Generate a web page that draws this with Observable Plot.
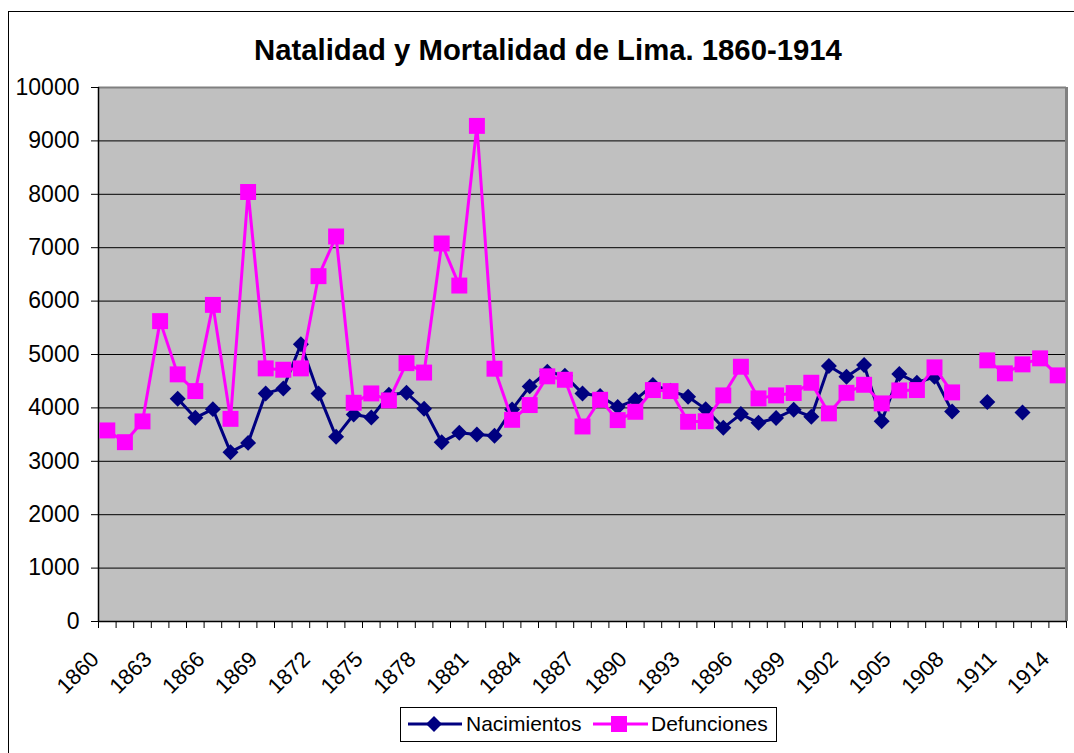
<!DOCTYPE html>
<html><head><meta charset="utf-8">
<script src="https://cdn.jsdelivr.net/npm/d3@7"></script>
<script src="https://cdn.jsdelivr.net/npm/@observablehq/plot@0.6"></script>
<style>
html,body{margin:0;padding:0;background:#fff;}
#wrap{position:relative;width:1074px;height:753px;overflow:hidden;font-family:Arial,"Liberation Sans",sans-serif;}
#frame{position:absolute;left:8px;top:11px;width:1200px;height:900px;border-left:1px solid #000;border-top:1px solid #000;}
#chart{position:absolute;left:0;top:0;}
#title{position:absolute;left:0;top:33px;width:1096px;text-align:center;font-weight:bold;font-size:29.3px;line-height:34px;color:#000;}
#legend{position:absolute;left:400px;top:707px;width:377px;height:35px;border:1px solid #000;box-sizing:border-box;background:#fff;}
#legend span{position:absolute;top:4px;font-size:21px;line-height:24px;color:#000;}
#legend svg{position:absolute;left:0;top:0;}
</style>
</head><body>
<div id="wrap">
  <div id="frame"></div>
  <div id="chart"></div>
  <div id="title">Natalidad y Mortalidad de Lima. 1860-1914</div>
  <div id="legend">
    <svg width="377" height="35">
      <line x1="7" x2="61" y1="16" y2="16" stroke="#000080" stroke-width="3"/>
      <path d="M33,8L41,16L33,24L25,16Z" fill="#000080"/>
      <line x1="192" x2="247" y1="16" y2="16" stroke="#FF00FF" stroke-width="3"/>
      <rect x="210" y="8" width="16" height="16" fill="#FF00FF"/>
    </svg>
    <span style="left:65px">Nacimientos</span>
    <span style="left:250px">Defunciones</span>
  </div>
</div>
<script>
const years = [1860,1861,1862,1863,1864,1865,1866,1867,1868,1869,
  1870,1871,1872,1873,1874,1875,1876,1877,1878,1879,
  1880,1881,1882,1883,1884,1885,1886,1887,1888,1889,
  1890,1891,1892,1893,1894,1895,1896,1897,1898,1899,
  1900,1901,1902,1903,1904,1905,1906,1907,1908,1909,
  1910,1911,1912,1913,1914];
const nacimientos = [null,null,null,null,4171,3814,3977,3171,3345,4271,
  4365,5191,4271,3458,3877,3821,4245,4283,3983,3358,
  3533,3502,3477,3971,4403,4677,4602,4271,4221,4015,
  4152,4428,4320,4208,3977,3627,3884,3721,3809,3965,
  3834,4784,4584,4803,3752,4634,4471,4584,3934,null,
  4109,null,3915,null,null];
const defunciones = [3578,3358,3747,5625,4628,4315,5929,3795,8043,4740,
  4715,4740,6467,7210,4096,4271,4140,4838,4662,7079,
  6291,9281,4734,3777,4053,4591,4527,3652,4152,3771,
  3927,4334,4315,3740,3750,4234,4771,4178,4234,4278,
  4471,3897,4283,4433,4084,4327,4334,4759,4290,null,
  4890,4647,4815,4928,4609];
const yTicks = [0,1000,2000,3000,4000,5000,6000,7000,8000,9000,10000];
const xTickLabels = [1860,1863,1866,1869,1872,1875,1878,1881,1884,1887,1890,1893,1896,1899,1902,1905,1908,1911,1914];

const rows = years.map((year, i) => ({year, nac: nacimientos[i], def: defunciones[i]}));
const bounds = years.map(y => y - 0.5).concat([years[years.length - 1] + 0.5]);
const x0 = bounds[0], x1 = bounds[bounds.length - 1];

const chart = Plot.plot({
  width: 1074, height: 753,
  marginLeft: 98, marginRight: 8, marginTop: 87, marginBottom: 132,
  x: {domain: [x0, x1]},
  y: {domain: [0, 10000]},
  style: {fontFamily: 'Arial, "Liberation Sans", sans-serif', background: "transparent", color: "#000"},
  marks: [
    Plot.frame({fill: "#C0C0C0"}),
    Plot.ruleY(yTicks.filter(v => v > 0 && v < 10000), {stroke: "#000", strokeWidth: 1}),
    Plot.ruleY([10000], {stroke: "#808080", strokeWidth: 2}),
    Plot.ruleX([x1], {stroke: "#808080", strokeWidth: 3}),
    Plot.ruleX([x0], {stroke: "#000", strokeWidth: 1.5}),
    Plot.ruleY([0], {stroke: "#000", strokeWidth: 1.5}),
    Plot.axisY({ticks: yTicks, tickSize: 7, tickPadding: 12, fontSize: 23, tickFormat: d => String(d), label: null}),
    Plot.axisX({ticks: bounds, tickSize: 7, tickFormat: () => "", label: null}),
    Plot.text(xTickLabels, {x: d => d, text: d => String(d), frameAnchor: "bottom", dx: -12, dy: 34,
      rotate: -45, textAnchor: "end", lineAnchor: "middle", fontSize: 22, fill: "#000"}),
    Plot.lineY(rows, {x: "year", y: "nac", stroke: "#000080", strokeWidth: 3}),
    Plot.dot(rows, {x: "year", y: "nac", symbol: "diamond2", r: 7.2, fill: "#000080"}),
    Plot.lineY(rows, {x: "year", y: "def", stroke: "#FF00FF", strokeWidth: 3}),
    Plot.dot(rows, {x: "year", y: "def", symbol: "square", r: 9, fill: "#FF00FF"})
  ]
});
document.getElementById("chart").appendChild(chart);
</script>
</body></html>
